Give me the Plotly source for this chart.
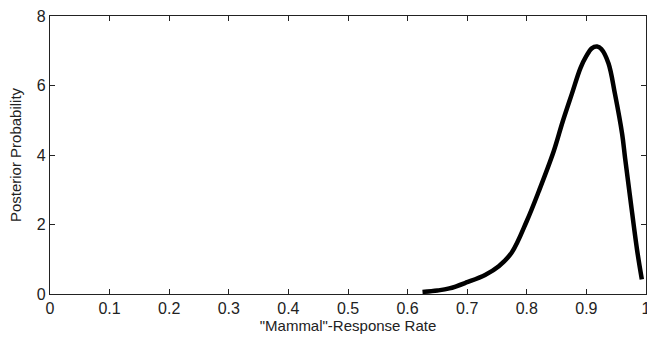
import plotly.graph_objects as go

rate = [0.625, 0.65, 0.67, 0.70, 0.73, 0.753, 0.775, 0.80, 0.82, 0.845, 0.86, 0.876,
        0.89, 0.90, 0.909, 0.918, 0.925, 0.937, 0.948, 0.96, 0.965, 0.974, 0.985, 0.993]
posterior = [0.06, 0.10, 0.16, 0.34, 0.55, 0.80, 1.20, 2.10, 2.95, 4.10, 4.95, 5.78,
             6.50, 6.85, 7.07, 7.12, 7.05, 6.64, 5.75, 4.60, 3.90, 2.70, 1.27, 0.42]

x_ticks = [0, 0.1, 0.2, 0.3, 0.4, 0.5, 0.6, 0.7, 0.8, 0.9, 1]
x_labels = ["0", "0.1", "0.2", "0.3", "0.4", "0.5", "0.6", "0.7", "0.8", "0.9", "1"]
y_ticks = [0, 2, 4, 6, 8]

FONT = "Liberation Sans, Arial, sans-serif"

fig = go.Figure(go.Scatter(
    x=rate, y=posterior, mode="lines",
    line=dict(color="black", width=4.5, shape="spline", smoothing=1.0),
    showlegend=False, cliponaxis=False,
))

axis_common = dict(
    showline=True, linecolor="#222222", linewidth=1.2, mirror="ticks",
    ticks="inside", ticklen=5, tickcolor="#222222", tickwidth=1,
    showgrid=False, zeroline=False, automargin=False,
    ticklabeloverflow="allow",
    tickfont=dict(family=FONT, size=16, color="#222222"),
)

fig.update_layout(
    width=647, height=342,
    margin=dict(l=50, r=1, t=16, b=48),
    paper_bgcolor="white", plot_bgcolor="white",
    xaxis=dict(range=[0, 1], tickvals=x_ticks, ticktext=x_labels,
               title=dict(text='"Mammal"-Response Rate', standoff=4,
                          font=dict(family=FONT, size=15, color="#222222")),
               **axis_common),
    yaxis=dict(range=[0, 8], tickvals=y_ticks,
               title=dict(text="Posterior Probability", standoff=11,
                          font=dict(family=FONT, size=15, color="#222222")),
               **axis_common),
)

fig.write_html(
    "out.html",
    config={"displayModeBar": False},
    post_script="document.body.style.margin='0px';document.body.style.overflow='hidden';",
)
